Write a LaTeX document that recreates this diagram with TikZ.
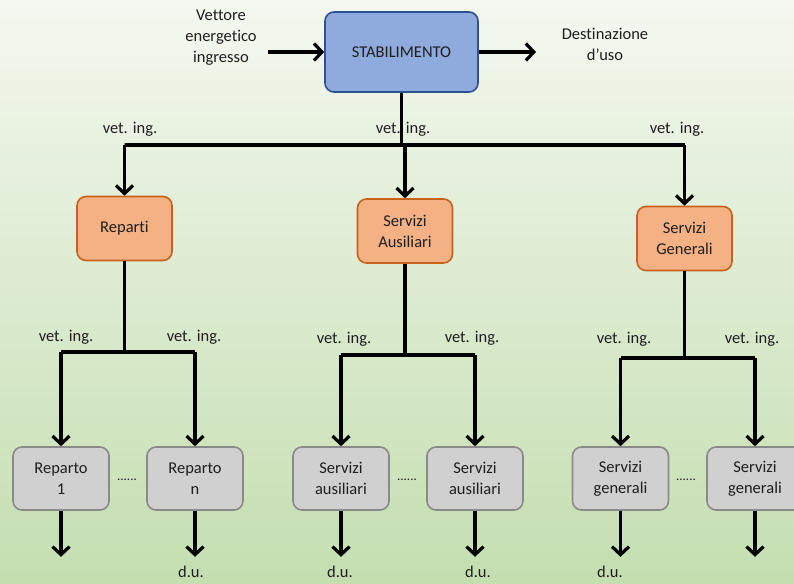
\documentclass[tikz,border=0pt]{standalone}
\usepackage{fontspec}
\setmainfont{Carlito}[Ligatures=NoCommon]
\usetikzlibrary{arrows.meta}

\definecolor{bgtop}{HTML}{F4F8F0}
\definecolor{bgbot}{HTML}{C4DEB0}
\definecolor{stabfill}{HTML}{8FAADC}
\definecolor{stabline}{HTML}{2F528F}
\definecolor{areafill}{HTML}{F4B183}
\definecolor{arealine}{HTML}{C8621A}
\definecolor{unitfill}{HTML}{D0D0D0}
\definecolor{unitline}{HTML}{8A8A8A}
\definecolor{txt}{HTML}{1E1E1E}

\tikzset{
  box/.style={draw, line width=1.6pt, rounded corners=9pt, align=center,
    text=txt, font=\fontsize{16.5}{21}\selectfont, inner sep=0pt},
  stabbox/.style={box, fill=stabfill, draw=stabline, minimum width=153pt, minimum height=80pt},
  areabox/.style={box, fill=areafill, draw=arealine, minimum width=95pt, minimum height=64pt},
  unitbox/.style={box, fill=unitfill, draw=unitline, minimum width=96pt, minimum height=63pt},
  lbl/.style={text=txt, align=center, font=\fontsize{16.5}{21}\selectfont, inner sep=0pt},
  dotsep/.style={lbl, font=\fontsize{13}{14}\selectfont},
  flow/.style={line width=3.2pt, -{Straight Barb[length=8pt,width=17pt,line width=3.2pt]}},
  wire/.style={line width=3.2pt},
}

\begin{document}
\begin{tikzpicture}[x=1pt, y=-1pt]
  \useasboundingbox (0,0) rectangle (794,583);
  \shade[top color=bgtop, bottom color=bgbot] (0,0) rectangle (794,583);

  % livello stabilimento
  \node[stabbox] (stab) at (401.5,52) {STABILIMENTO};
  \node[lbl] (vin) at (221,38) {Vettore\\energetico\\ingresso};
  \node[lbl] (dest) at (605,44) {Destinazione\\d’uso};
  \coordinate (inS) at (268,52);
  \coordinate (outE) at (536,52);
  \draw[flow] (inS) -- (stab.west);
  \draw[flow] (stab.east) -- (outE);

  % livello aree
  \node[areabox] (rep) at (124.5,228.5) {Reparti};
  \node[areabox] (sa) at (405,231) {Servizi\\Ausiliari};
  \node[areabox] (sg) at (684.5,238.5) {Servizi\\Generali};

  \coordinate (bus) at (401.5,145);
  \draw[wire] (stab.south) -- (bus);
  \draw[wire] (bus) -- (rep.north |- bus) -- (sg.north |- bus);
  \draw[flow] (rep.north |- bus) -- (rep.north);
  \draw[flow] (sa.north |- bus) -- (sa.north);
  \draw[flow] (sg.north |- bus) -- (sg.north);
  \node[lbl] (vi0a) at (130,129) {vet. ing.};
  \node[lbl] (vi0b) at (403,129) {vet. ing.};
  \node[lbl] (vi0c) at (677,129) {vet. ing.};

  % livello unita
  \node[unitbox] (rep1) at (61,478.5) {Reparto\\1};
  \node[unitbox] (repn) at (195,478.5) {Reparto\\n};
  \node[unitbox] (sa1) at (341,478.5) {Servizi\\ausiliari};
  \node[unitbox] (sa2) at (475,478.5) {Servizi\\ausiliari};
  \node[unitbox] (sg1) at (620.5,478.5) {Servizi\\generali};
  \node[unitbox] (sg2) at (755,478.5) {Servizi\\generali};

  \foreach \top/\l/\r/\yb in {rep/rep1/repn/352, sa/sa1/sa2/355, sg/sg1/sg2/358}{
    \coordinate (\top-b) at (\top.south |- 0,\yb);
    \draw[wire] (\top.south) -- (\top-b);
    \draw[wire] (\l.north |- \top-b) -- (\r.north |- \top-b);
    \draw[flow] (\l.north |- \top-b) -- (\l.north);
    \draw[flow] (\r.north |- \top-b) -- (\r.north);
  }

  \node[lbl] (vi1a) at (66,337) {vet. ing.};
  \node[lbl] (vi1b) at (194,337) {vet. ing.};
  \node[lbl] (vi2a) at (344,339) {vet. ing.};
  \node[lbl] (vi2b) at (472,338) {vet. ing.};
  \node[lbl] (vi3a) at (624,339) {vet. ing.};
  \node[lbl] (vi3b) at (752,339) {vet. ing.};

  \node[dotsep] (dots1) at (127,480) {......};
  \node[dotsep] (dots2) at (407,480) {......};
  \node[dotsep] (dots3) at (686,480) {......};

  % uscite
  \foreach \u in {rep1,repn,sa1,sa2,sg1,sg2}{
    \coordinate (\u-o) at ([yshift=-46pt]\u.south);
    \draw[flow] (\u.south) -- (\u-o);
  }
  \node[lbl] (du1) at (191,572) {d.u.};
  \node[lbl] (du2) at (340,572) {d.u.};
  \node[lbl] (du3) at (478,572) {d.u.};
  \node[lbl] (du4) at (610,572) {d.u.};
\end{tikzpicture}
\end{document}
